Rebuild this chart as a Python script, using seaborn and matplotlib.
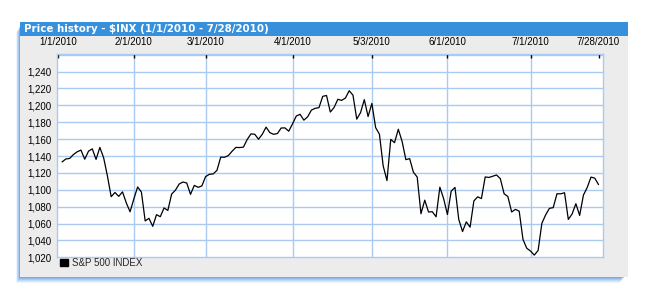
import matplotlib
matplotlib.use("Agg")
import matplotlib.pyplot as plt
from matplotlib.patches import Rectangle, Patch
import seaborn as sns
import pandas as pd

# ---- data ----
dates = [
    "2010-01-04", "2010-01-05", "2010-01-06", "2010-01-07", "2010-01-08", "2010-01-11", "2010-01-12",
    "2010-01-13", "2010-01-14", "2010-01-15", "2010-01-19", "2010-01-20", "2010-01-21", "2010-01-22",
    "2010-01-25", "2010-01-26", "2010-01-27", "2010-01-28", "2010-01-29",
    "2010-02-01", "2010-02-02", "2010-02-03", "2010-02-04", "2010-02-05", "2010-02-08", "2010-02-09",
    "2010-02-10", "2010-02-11", "2010-02-12", "2010-02-16", "2010-02-17", "2010-02-18", "2010-02-19",
    "2010-02-22", "2010-02-23", "2010-02-24", "2010-02-25", "2010-02-26",
    "2010-03-01", "2010-03-02", "2010-03-03", "2010-03-04", "2010-03-05", "2010-03-08", "2010-03-09",
    "2010-03-10", "2010-03-11", "2010-03-12", "2010-03-15", "2010-03-16", "2010-03-17", "2010-03-18",
    "2010-03-19", "2010-03-22", "2010-03-23", "2010-03-24", "2010-03-25", "2010-03-26", "2010-03-29",
    "2010-03-30", "2010-03-31",
    "2010-04-01", "2010-04-05", "2010-04-06", "2010-04-07", "2010-04-08", "2010-04-09", "2010-04-12",
    "2010-04-13", "2010-04-14", "2010-04-15", "2010-04-16", "2010-04-19", "2010-04-20", "2010-04-21",
    "2010-04-22", "2010-04-23", "2010-04-26", "2010-04-27", "2010-04-28", "2010-04-29", "2010-04-30",
    "2010-05-03", "2010-05-04", "2010-05-05", "2010-05-06", "2010-05-07", "2010-05-10", "2010-05-11",
    "2010-05-12", "2010-05-13", "2010-05-14", "2010-05-17", "2010-05-18", "2010-05-19", "2010-05-20",
    "2010-05-21", "2010-05-24", "2010-05-25", "2010-05-26", "2010-05-27", "2010-05-28",
    "2010-06-01", "2010-06-02", "2010-06-03", "2010-06-04", "2010-06-07", "2010-06-08", "2010-06-09",
    "2010-06-10", "2010-06-11", "2010-06-14", "2010-06-15", "2010-06-16", "2010-06-17", "2010-06-18",
    "2010-06-21", "2010-06-22", "2010-06-23", "2010-06-24", "2010-06-25", "2010-06-28", "2010-06-29",
    "2010-06-30",
    "2010-07-01", "2010-07-02", "2010-07-06", "2010-07-07", "2010-07-08", "2010-07-09", "2010-07-12",
    "2010-07-13", "2010-07-14", "2010-07-15", "2010-07-16", "2010-07-19", "2010-07-20", "2010-07-21",
    "2010-07-22", "2010-07-23", "2010-07-26", "2010-07-27", "2010-07-28",
]
close = [
    1133.0, 1136.5, 1137.1, 1141.7, 1145.0, 1147.0, 1136.2,
    1145.7, 1148.5, 1136.0, 1150.2, 1138.0, 1116.5, 1091.8,
    1096.8, 1092.2, 1097.5, 1084.5, 1073.9,
    1089.2, 1103.3, 1097.3, 1063.1, 1066.2, 1056.7, 1070.5,
    1068.1, 1078.5, 1075.5, 1094.9, 1099.5, 1106.8, 1109.2,
    1108.0, 1094.6, 1105.2, 1102.9, 1104.5,
    1115.7, 1118.3, 1118.8, 1123.0, 1138.7, 1138.5, 1140.5,
    1145.6, 1150.2, 1150.0, 1150.5, 1159.5, 1166.2, 1165.8,
    1159.9, 1165.8, 1174.2, 1167.7, 1165.7, 1166.6, 1173.2,
    1173.3, 1169.4,
    1178.1, 1187.4, 1189.4, 1182.5, 1186.4, 1194.4, 1196.5,
    1197.3, 1210.7, 1211.7, 1192.1, 1197.5, 1207.2, 1205.9,
    1208.7, 1217.3, 1212.1, 1183.7, 1191.4, 1206.8, 1186.7,
    1202.3, 1173.6, 1165.9, 1128.2, 1110.9, 1159.7, 1155.8,
    1171.7, 1157.4, 1135.7, 1136.9, 1120.8, 1115.1, 1071.6,
    1087.7, 1073.7, 1074.0, 1068.0, 1103.1, 1089.4,
    1070.7, 1098.4, 1102.8, 1064.9, 1050.5, 1062.0, 1055.7,
    1086.8, 1091.6, 1089.6, 1115.2, 1114.6, 1116.0, 1117.5,
    1113.2, 1095.3, 1092.0, 1073.7, 1076.8, 1074.6, 1041.2,
    1030.7,
    1027.4, 1022.6, 1028.1, 1060.3, 1070.3, 1078.0, 1078.8,
    1095.3, 1095.2, 1096.5, 1064.9, 1071.3, 1083.5, 1069.6,
    1093.7, 1102.7, 1115.0, 1113.8, 1106.1,
]
tick_dates = ["2010-01-01", "2010-02-01", "2010-03-01", "2010-04-01", "2010-05-03",
              "2010-06-01", "2010-07-01", "2010-07-28"]
tick_labels = ["1/1/2010", "2/1/2010", "3/1/2010", "4/1/2010", "5/3/2010",
               "6/1/2010", "7/1/2010", "7/28/2010"]
y_ticks = [1020, 1040, 1060, 1080, 1100, 1120, 1140, 1160, 1180, 1200, 1220, 1240]
title = "Price history - $INX (1/1/2010 - 7/28/2010)"
series_name = "S&P 500 INDEX"

# trading-day axis: x = session number
dt = pd.to_datetime(dates)
df = pd.DataFrame({"session": range(len(dates)), "close": close})
tick_pos = []
for t in pd.to_datetime(tick_dates):
    n_before = int((dt < t).sum())
    tick_pos.append(n_before if t in set(dt) else n_before - 1)

# ---- style ----
sns.set_style("white")
plt.rcParams["font.family"] = ["Liberation Sans", "DejaVu Sans"]

W, H = 650, 300
fig = plt.figure(figsize=(W / 100, H / 100), dpi=100)
fig.patch.set_facecolor("white")

def fx(x):
    return x / W

def fy(y):
    return 1 - y / H

GRID = "#a9caf1"
BLUE = "#3790dc"
PANEL = "#ececec"

# shadow / glow (down-left)
px0, px1, py0, py1 = 20.0, 627.5, 22.3, 276.7
for i, a in zip(range(6, 0, -1), [0.10, 0.14, 0.18, 0.24, 0.32, 0.45]):
    fig.add_artist(Rectangle((fx(px0 - i * 0.7), fy(py1 + i)), fx(px1 - px0 - 3), (py1 - py0 - 4) / H,
                             transform=fig.transFigure, facecolor="#5c9be6", edgecolor="none",
                             alpha=a, zorder=-5))
# panel
fig.add_artist(Rectangle((fx(px0), fy(py1)), fx(px1 - px0), (py1 - py0) / H,
                         transform=fig.transFigure, facecolor=PANEL, edgecolor="none", zorder=-3))
# title bar
fig.add_artist(Rectangle((fx(px0), fy(35.7)), fx(px1 - px0), (35.7 - py0) / H,
                         transform=fig.transFigure, facecolor=BLUE, edgecolor="none", zorder=-2))
fig.text(fx(24.5), fy(29.2), title, color="white", fontsize=7.4, fontweight="bold",
         family=["DejaVu Sans"], va="center", ha="left")

# plot axes
L, R, T, B = 57.3, 602.7, 54.3, 257.3
ax = fig.add_axes([fx(L), fy(B), (R - L) / W, (B - T) / H])
ax.set_facecolor("white")

sns.lineplot(data=df, x="session", y="close", ax=ax, color="black", linewidth=0.9)

ax.set_ylim(1020, 1260.5)
ax.set_xlim(tick_pos[0] - 0.26, tick_pos[-1] + 1.1)
ax.set_yticks(y_ticks)
ax.set_yticklabels([f"{v:,}" for v in y_ticks])
ax.set_xticks(tick_pos)
ax.set_xticklabels(tick_labels)
ax.xaxis.tick_top()
ax.tick_params(axis="x", direction="in", length=3, width=1, color="black", pad=5,
               labelsize=7, labelcolor="black")
ax.tick_params(axis="y", length=0, pad=4, labelsize=7, labelcolor="black")
ax.set_xlabel("")
ax.set_ylabel("")

for v in y_ticks[1:] + [1260]:
    ax.axhline(v, color=GRID, linewidth=1, zorder=0)
for p in tick_pos[1:-1]:
    ax.axvline(p, color=GRID, linewidth=1, zorder=0)
for s in ax.spines.values():
    s.set_color(GRID)
    s.set_linewidth(1)

leg = ax.legend(handles=[Patch(facecolor="black", edgecolor="black", label=series_name)],
                loc="upper left", bbox_to_anchor=(fx(59.8), fy(258.2)), bbox_transform=fig.transFigure,
                frameon=False, fontsize=7, handlelength=0.85, handleheight=0.75,
                handletextpad=0.45, borderpad=0, borderaxespad=0)

fig.savefig("out.png", dpi=100, facecolor="white")
